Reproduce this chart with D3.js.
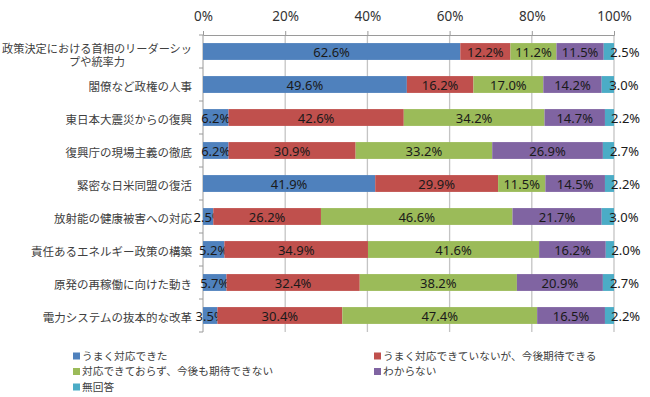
<!DOCTYPE html>
<html>
<head>
<meta charset="utf-8">
<script src="https://cdn.jsdelivr.net/npm/d3@7"></script>
<style>
  body { margin: 0; background: #fff; }
  text { font-family: "Noto Sans CJK JP", "Noto Sans", sans-serif; }
</style>
</head>
<body>
<script>
// categories (top to bottom)
const categories = [
    '政策決定における首相のリーダーシップや統率力',
    '閣僚など政権の人事',
    '東日本大震災からの復興',
    '復興庁の現場主義の徹底',
    '緊密な日米同盟の復活',
    '放射能の健康被害への対応',
    '責任あるエネルギー政策の構築',
    '原発の再稼働に向けた動き',
    '電力システムの抜本的な改革'
];
// first label is wrapped over two lines
const labelLines = [
    ['政策決定における首相のリーダーシッ', 'プや統率力']
];

const seriesNames = [
    'うまく対応できた',
    'うまく対応できていないが、今後期待できる',
    '対応できておらず、今後も期待できない',
    'わからない',
    '無回答'
];

const doneWell = [62.6, 49.6, 6.2, 6.2, 41.9, 2.5, 5.2, 5.7, 3.5];
const hopeful = [12.2, 16.2, 42.6, 30.9, 29.9, 26.2, 34.9, 32.4, 30.4];
const noHope = [11.2, 17.0, 34.2, 33.2, 11.5, 46.6, 41.6, 38.2, 47.4];
const dontKnow = [11.5, 14.2, 14.7, 26.9, 14.5, 21.7, 16.2, 20.9, 16.5];
const noAnswer = [2.5, 3.0, 2.2, 2.7, 2.2, 3.0, 2.0, 2.7, 2.2];

const tickValues = [0, 0.2, 0.4, 0.6, 0.8, 1];

const colors = ['#4F81BD', '#C0504D', '#9BBB59', '#8064A2', '#4BACC6'];

const width = 650, height = 397;
const plot = { left: 203, right: 614, top: 35, bottom: 332 };

const rows = categories.map((c, i) => ({
    category: c,
    s0: doneWell[i], s1: hopeful[i], s2: noHope[i], s3: dontKnow[i], s4: noAnswer[i]
}));
const keys = ['s0', 's1', 's2', 's3', 's4'];

const svg = d3.select('body').append('svg')
    .attr('width', width)
    .attr('height', height);

const x = d3.scaleLinear().domain([0, 1]).range([plot.left, plot.right]);
const y = d3.scaleBand()
    .domain(categories)
    .range([plot.top, plot.bottom])
    .paddingInner(0.49)
    .paddingOuter(0.245);

// gridlines
svg.append('g')
    .selectAll('line')
    .data(tickValues.slice(1))
    .enter().append('line')
    .attr('x1', d => x(d)).attr('x2', d => x(d))
    .attr('y1', plot.top).attr('y2', plot.bottom)
    .attr('stroke', '#c4c4c4')
    .attr('stroke-width', 1.3);

// top axis
const xAxis = svg.append('g')
    .attr('transform', `translate(0,${plot.top})`)
    .call(d3.axisTop(x).tickValues(tickValues).tickFormat(d3.format('.0%')).tickSize(4).tickPadding(10));
xAxis.select('.domain').attr('stroke', '#9a9a9a');
xAxis.selectAll('.tick line').attr('stroke', '#9a9a9a');
xAxis.selectAll('.tick text')
    .attr('fill', '#333')
    .style('font-family', '"Noto Sans", sans-serif')
    .style('font-size', '13.5px');

// left axis line with ticks at band boundaries
const nCat = categories.length;
svg.append('line')
    .attr('x1', plot.left).attr('x2', plot.left)
    .attr('y1', plot.top).attr('y2', plot.bottom)
    .attr('stroke', '#9a9a9a');
svg.append('g')
    .selectAll('line')
    .data(d3.range(nCat + 1))
    .enter().append('line')
    .attr('x1', plot.left - 4).attr('x2', plot.left)
    .attr('y1', i => plot.top + i * (plot.bottom - plot.top) / nCat)
    .attr('y2', i => plot.top + i * (plot.bottom - plot.top) / nCat)
    .attr('stroke', '#9a9a9a');

// category labels
const catG = svg.append('g');
categories.forEach((c, i) => {
    const cy = y(c) + y.bandwidth() / 2;
    const lines = labelLines[i] || [c];
    if (lines.length === 1) {
        catG.append('text')
            .attr('x', 192).attr('y', cy + 1)
            .attr('text-anchor', 'end')
            .attr('dominant-baseline', 'central')
            .attr('fill', '#404040')
            .style('font-size', '11.5px')
            .text(c);
    } else {
        const t = catG.append('text')
            .attr('text-anchor', 'middle')
            .attr('fill', '#404040')
            .style('font-size', '11.2px');
        const l1 = t.append('tspan')
            .attr('y', cy - 4)
            .attr('dominant-baseline', 'central')
            .text(lines[0]);
        const w = l1.node().getComputedTextLength();
        const cx = 192 - w / 2;
        l1.attr('x', cx);
        t.append('tspan')
            .attr('x', cx).attr('y', cy + 9)
            .attr('dominant-baseline', 'central')
            .text(lines[1]);
    }
});

// stacked bars (100%)
const stacked = d3.stack().keys(keys).offset(d3.stackOffsetExpand)(rows);

const layer = svg.selectAll('.layer')
    .data(stacked)
    .enter().append('g')
    .attr('class', 'layer')
    .attr('fill', (d, i) => colors[i]);

layer.selectAll('rect')
    .data(d => d)
    .enter().append('rect')
    .attr('x', d => x(d[0]))
    .attr('y', d => y(d.data.category))
    .attr('width', d => x(d[1]) - x(d[0]))
    .attr('height', y.bandwidth());

// data labels
const fmt = d3.format('.1f');
layer.each(function (series, si) {
    const last = si === keys.length - 1;
    d3.select(this).selectAll('text')
        .data(series)
        .enter().append('text')
        .attr('x', d => last ? (x(d[0]) + x(d[1])) / 2 + 1.5 : (x(d[0]) + x(d[1])) / 2)
        .attr('y', d => y(d.data.category) + y.bandwidth() / 2 + 0.5)
        .attr('text-anchor', last ? 'start' : 'middle')
        .attr('dominant-baseline', 'central')
        .attr('fill', '#1a1a1a')
        .style('font-family', '"Noto Sans", sans-serif')
        .style('font-size', '13px')
        .text(d => fmt(d.data[series.key]) + '%');
});

// legend
const legendPos = [
    [73, 355], [374, 355],
    [73, 370.5], [374, 370.5],
    [73, 386]
];
const legend = svg.append('g')
    .selectAll('g')
    .data(seriesNames)
    .enter().append('g')
    .attr('transform', (d, i) => `translate(${legendPos[i][0]},${legendPos[i][1]})`);
legend.append('rect')
    .attr('x', 0).attr('y', -2.5)
    .attr('width', 7).attr('height', 7)
    .attr('fill', (d, i) => colors[i]);
legend.append('text')
    .attr('x', 9).attr('y', 0)
    .attr('dominant-baseline', 'central')
    .attr('fill', '#404040')
    .style('font-size', '10.7px')
    .text(d => d);
</script>
</body>
</html>
